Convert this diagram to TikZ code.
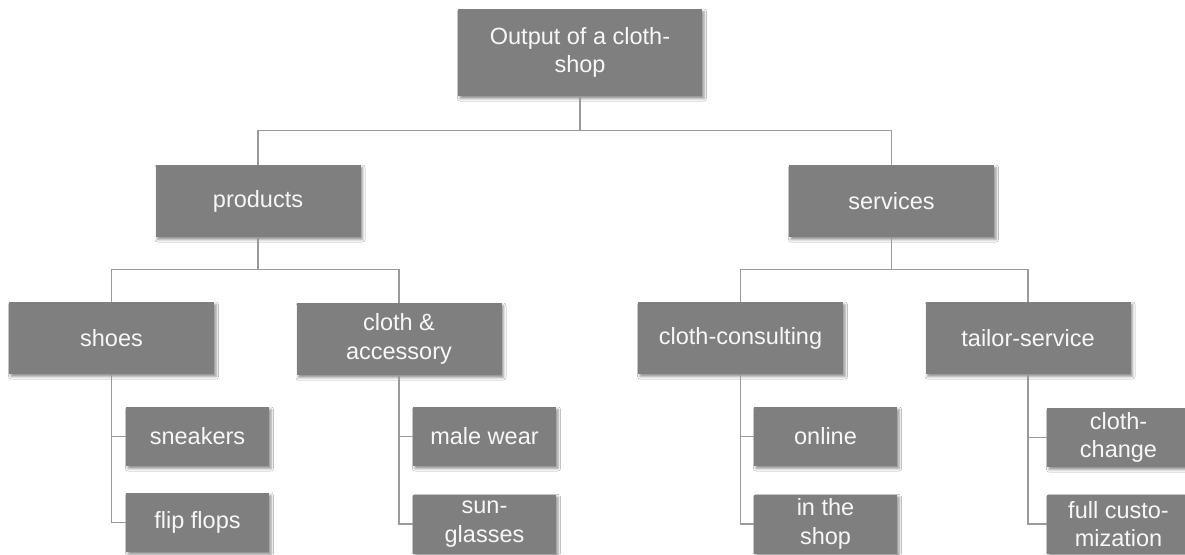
\documentclass[tikz,border=0pt]{standalone}
\usepackage{fontspec}
\setmainfont{Liberation Sans}
\usetikzlibrary{shadows.blur}
\definecolor{boxfill}{HTML}{7F7F7F}
\definecolor{boxtext}{HTML}{F7F7F7}
\definecolor{linkcol}{HTML}{9A9A9A}
\tikzset{
  unit/.style={rectangle, fill=boxfill, text=boxtext, align=center, inner sep=0pt,
    font=\fontsize{23.5}{28.5}\selectfont,
    blur shadow={shadow xshift=2pt, shadow yshift=-2.5pt, shadow blur radius=2.5pt, shadow opacity=45}},
  bigunit/.style={unit, minimum width=205pt, minimum height=72pt},
  rootunit/.style={unit, minimum width=244pt, minimum height=87pt},
  leafunit/.style={unit, minimum width=143pt, minimum height=59pt},
  link/.style={draw=linkcol, line width=1.1pt}
}
\begin{document}
\begin{tikzpicture}[x=1pt,y=-1pt]
  \useasboundingbox (0,0) rectangle (1185,554);
  \fill[white] (0,0) rectangle (1185,554);

  % top level
  \node[rootunit] (root) at (580,52.5) {Output of a cloth-\\shop};

  % second level
  \node[bigunit] (products) at (258,201) {products};
  \node[bigunit] (services) at (891.5,201) {services};

  % third level
  \node[bigunit] (shoes)    at (111.5,338) {shoes};
  \node[bigunit] (clothacc) at (399,339) {cloth \&\\accessory};
  \node[bigunit] (consult)  at (740.5,338) {cloth-consulting};
  \node[bigunit] (tailor)   at (1028,338) {tailor-service};

  % leaves
  \node[leafunit] (sneakers)  at (197.5,436.5) {sneakers};
  \node[leafunit] (flipflops) at (197.5,522.5) {flip flops};
  \node[leafunit] (malewear)  at (484.5,436.5) {male wear};
  \node[leafunit] (glasses)   at (484.5,524) {sun-\\glasses};
  \node[leafunit] (online)    at (825.5,436.5) {online};
  \node[leafunit] (inshop)    at (825.5,524) {in the\\shop};
  \node[leafunit] (change)    at (1118.5,437.5) {cloth-\\change};
  \node[leafunit] (custom)    at (1118.5,524) {full custo-\\mization};

  % connectors: elbow links from each parent to its children
  \draw[link] (root.south) -- ++(0,34.5) -| (products.north);
  \draw[link] (root.south) -- ++(0,34.5) -| (services.north);
  \draw[link] (products.south) -- ++(0,32) -| (shoes.north);
  \draw[link] (products.south) -- ++(0,32) -| (clothacc.north);
  \draw[link] (services.south) -- ++(0,32) -| (consult.north);
  \draw[link] (services.south) -- ++(0,32) -| (tailor.north);
  \draw[link] (shoes.south) |- (sneakers.west);
  \draw[link] (shoes.south) |- (flipflops.west);
  \draw[link] (clothacc.south) |- (malewear.west);
  \draw[link] (clothacc.south) |- (glasses.west);
  \draw[link] (consult.south) |- (online.west);
  \draw[link] (consult.south) |- (inshop.west);
  \draw[link] (tailor.south) |- (change.west);
  \draw[link] (tailor.south) |- (custom.west);
\end{tikzpicture}
\end{document}
